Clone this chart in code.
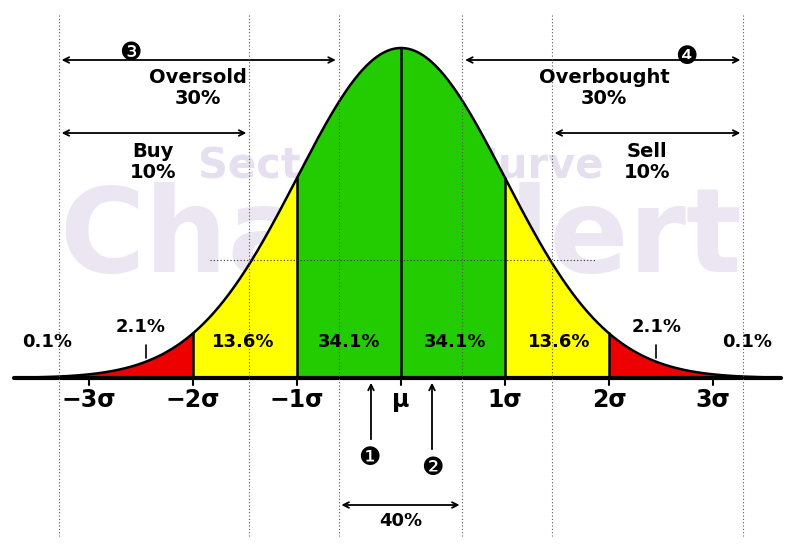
import numpy as np, pandas as pd, matplotlib
matplotlib.use("Agg")
import matplotlib.pyplot as plt, seaborn as sns

sns.set_style("white")
plt.rcParams['font.family'] = ['DejaVu Sans']
plt.rcParams['text.color'] = 'black'

tick_pos = [-3, -2, -1, 0, 1, 2, 3]
tick_labels = ["−3σ", "−2σ", "−1σ", "μ", "1σ", "2σ", "3σ"]
pct_pos = [-3.4, -2.5, -1.52, -0.5, 0.52, 1.52, 2.46, 3.33]
pct_y = [0.11, 0.155, 0.11, 0.11, 0.11, 0.11, 0.155, 0.11]
pct_labels = ["0.1%", "2.1%", "13.6%", "34.1%", "34.1%", "13.6%", "2.1%", "0.1%"]
guide_pos = [-3.29, -1.46, -0.6, 0.59, 1.45, 3.29]

W, H = 795, 545
fig = plt.figure(figsize=(W/100, H/100), dpi=100)
ax = fig.add_axes([0, 0, 1, 1])
ppx = 104.0
x0 = -401/ppx; x1 = (W-401)/ppx
ax.set_xlim(x0, x1)
ax.set_ylim(-(H-378)/330, 378/330)
ax.axis("off")

xs = np.linspace(-3.7, 3.65, 800)
ys = np.exp(-xs**2/2)
df = pd.DataFrame({"x": xs, "y": ys})

def fill(a, b, c):
    m = (xs >= a) & (xs <= b)
    ax.fill_between(xs[m], 0, ys[m], color=c, lw=0, zorder=2)
fill(-1, 1, "#22cc00"); fill(-2, -1, "#ffff00"); fill(1, 2, "#ffff00")
fill(-3.7, -2, "#ee0000"); fill(2, 3.7, "#ee0000")
for t in [-2, -1, 0, 1, 2]:
    ax.plot([t, t], [0, np.exp(-t*t/2)], color="black", lw=1.8, zorder=3)
sns.lineplot(data=df, x="x", y="y", color="black", lw=1.8, ax=ax, zorder=3)
ax.plot([-3.72, 3.65], [0, 0], color="black", lw=3, zorder=3)

# watermark
ax.text(0, 0.645, "Sector Bell Curve", ha="center", va="center", fontsize=30, fontweight="bold", color="#e6dff0", zorder=1)
ax.text(0, 0.42, "ChartAlert", ha="center", va="center", fontsize=84, fontweight="bold", color="#ebe6f2", zorder=1)

for g in guide_pos:
    ax.plot([g, g], [1.1, -0.48], color="#555555", lw=0.8, ls=(0, (1, 2)), zorder=4)
ax.plot([(210-401)/ppx, (595-401)/ppx], [0.358, 0.358], color="#333333", lw=0.8, ls=(0, (1, 2)), zorder=4)

for t, l in zip(tick_pos, tick_labels):
    ax.plot([t, t], [0, -0.02], color="black", lw=1.5)
    ax.text(t, -0.03, l, ha="center", va="top", fontsize=17, fontweight="bold")
for t in [-2.45, 2.45]:
    ax.plot([t, t], [0.06, 0.1], color="black", lw=1.2, zorder=4)
for p, yv, l in zip(pct_pos, pct_y, pct_labels):
    ax.text(p, yv, l, ha="center", va="center", fontsize=13, fontweight="bold", zorder=5)

def darrow(a, b, y):
    ax.annotate("", xy=(a, y), xytext=(b, y), arrowprops=dict(arrowstyle="<->", color="black", lw=1.3))
def ytxt(py): return (378-py)/330
darrow(guide_pos[0], guide_pos[2], ytxt(60))
darrow(guide_pos[0], guide_pos[1], ytxt(133))
darrow(guide_pos[3], guide_pos[5], ytxt(60))
darrow(guide_pos[4], guide_pos[5], ytxt(133))
darrow(guide_pos[2], guide_pos[3], ytxt(505))
ax.text((130-401)/ppx, ytxt(53), "❸", ha="center", va="center", fontsize=18, zorder=5)
ax.text((686-401)/ppx, ytxt(57), "❹", ha="center", va="center", fontsize=18, zorder=5)
ax.text((198-401)/ppx, ytxt(88), "Oversold\n30%", ha="center", va="center", fontsize=14, fontweight="bold", linespacing=1.1, zorder=5)
ax.text((604-401)/ppx, ytxt(88), "Overbought\n30%", ha="center", va="center", fontsize=14, fontweight="bold", linespacing=1.1, zorder=5)
ax.text((153-401)/ppx, ytxt(162), "Buy\n10%", ha="center", va="center", fontsize=14, fontweight="bold", linespacing=1.1, zorder=5)
ax.text((647-401)/ppx, ytxt(162), "Sell\n10%", ha="center", va="center", fontsize=14, fontweight="bold", linespacing=1.1, zorder=5)
ax.text(0, ytxt(521), "40%", ha="center", va="center", fontsize=13, fontweight="bold")
ax.annotate("", xy=((371-401)/ppx, ytxt(380)), xytext=((371-401)/ppx, ytxt(442)), arrowprops=dict(arrowstyle="->", color="black", lw=1.3))
ax.annotate("", xy=((432-401)/ppx, ytxt(380)), xytext=((432-401)/ppx, ytxt(452)), arrowprops=dict(arrowstyle="->", color="black", lw=1.3))
ax.text((369-401)/ppx, ytxt(458), "❶", ha="center", va="center", fontsize=18)
ax.text((432-401)/ppx, ytxt(468), "❷", ha="center", va="center", fontsize=18)

fig.savefig("out.png", dpi=100, facecolor="white")
